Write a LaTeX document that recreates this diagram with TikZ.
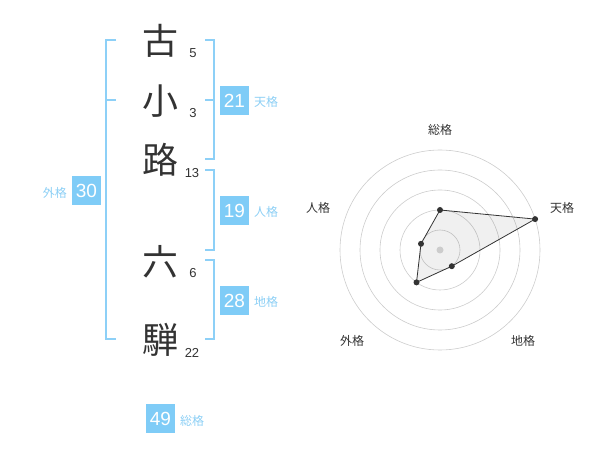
\documentclass[tikz,border=0pt]{standalone}
\usepackage{fontspec}
\setmainfont{Liberation Sans}
\newfontfamily\cjk{Noto Sans CJK JP}
\definecolor{boxblue}{HTML}{7FCCF7}
\definecolor{lblblue}{HTML}{8CCFF5}
\definecolor{brk}{HTML}{8DD0F7}
\definecolor{txt}{HTML}{333333}
\definecolor{ring}{HTML}{CCCCCC}
\begin{document}
\begin{tikzpicture}[x=1pt,y=-1pt,
  kanji/.style={font=\cjk\fontsize{36}{36}\selectfont, text=txt, inner sep=0pt},
  strk/.style={font=\fontsize{13}{13}\selectfont, text=txt, inner sep=0pt},
  numbox/.style={fill=boxblue, text=white, font=\fontsize{19}{19}\selectfont, minimum width=29pt, minimum height=29pt, inner sep=0pt},
  lbl/.style={font=\cjk\fontsize{12}{12}\selectfont, text=lblblue, inner sep=0pt},
  bracket/.style={draw=brk, line width=1.3pt},
  rlbl/.style={font=\cjk\fontsize{12}{12}\selectfont, text=txt, inner sep=0pt},
  dot/.style={circle, fill=txt, inner sep=0pt, minimum size=6pt}]
\useasboundingbox (0,0) rectangle (600,470);
% kanji
\node[kanji] (k1) at (160,41) {古};
\node[kanji] (k2) at (160,101) {小};
\node[kanji] (k3) at (160,160) {路};
\node[kanji] (k4) at (160,262) {六};
\node[kanji] (k5) at (160,340) {騨};
\node[strk] (s1) at (193,53) {5};
\node[strk] (s2) at (193,113) {3};
\node[strk] (s3) at (192,173) {13};
\node[strk] (s4) at (193,273) {6};
\node[strk] (s5) at (192,353) {22};
% brackets
\draw[bracket] (116,40) -- (106,40) -- (106,339) -- (116,339);
\draw[bracket] (106,100) -- (116,100);
\draw[bracket] (205,40) -- (214,40) -- (214,159) -- (205,159);
\draw[bracket] (214,100) -- (205,100);
\draw[bracket] (205,170) -- (214,170) -- (214,250) -- (205,250);
\draw[bracket] (205,260) -- (214,260) -- (214,339) -- (205,339);
% boxes
\node[numbox] (gai) at (86.5,190.5) {30};
\node[lbl, anchor=east] (gail) at (67,193) {外格};
\node[numbox] (ten) at (234.5,100.5) {21};
\node[lbl, anchor=west] (tenl) at (254,102) {天格};
\node[numbox] (jin) at (234.5,210.5) {19};
\node[lbl, anchor=west] (jinl) at (254,212) {人格};
\node[numbox] (chi) at (234.5,300.5) {28};
\node[lbl, anchor=west] (chil) at (254,302) {地格};
\node[numbox] (sou) at (160.5,418.5) {49};
\node[lbl, anchor=west] (soul) at (180,421) {総格};
% radar
\coordinate (c) at (440,250);
\foreach \r in {20,40,60,80,100} \draw[ring, line width=0.6pt] (c) circle (\r);
\path (440,250) ++(0,-40) coordinate (q1);
\path (440,250) ++(95.1,-30.9) coordinate (q2);
\path (440,250) ++(11.8,16.2) coordinate (q3);
\path (440,250) ++(-23.5,32.4) coordinate (q4);
\path (440,250) ++(-19,-6.2) coordinate (q5);
\fill[black, opacity=0.06] (q1) -- (q2) -- (q3) -- (q4) -- (q5) -- cycle;
\fill[ring] (c) circle (3.5);
\draw[txt, line width=0.8pt] (q1) -- (q2) -- (q3) -- (q4) -- (q5) -- cycle;
\foreach \q in {q1,q2,q3,q4,q5} \node[dot] at (\q) {};
\node[rlbl] (r1) at (440,130) {総格};
\node[rlbl] (r2) at (562,208) {天格};
\node[rlbl] (r3) at (523,341) {地格};
\node[rlbl] (r4) at (352,341) {外格};
\node[rlbl] (r5) at (318,208) {人格};
\end{tikzpicture}
\end{document}
